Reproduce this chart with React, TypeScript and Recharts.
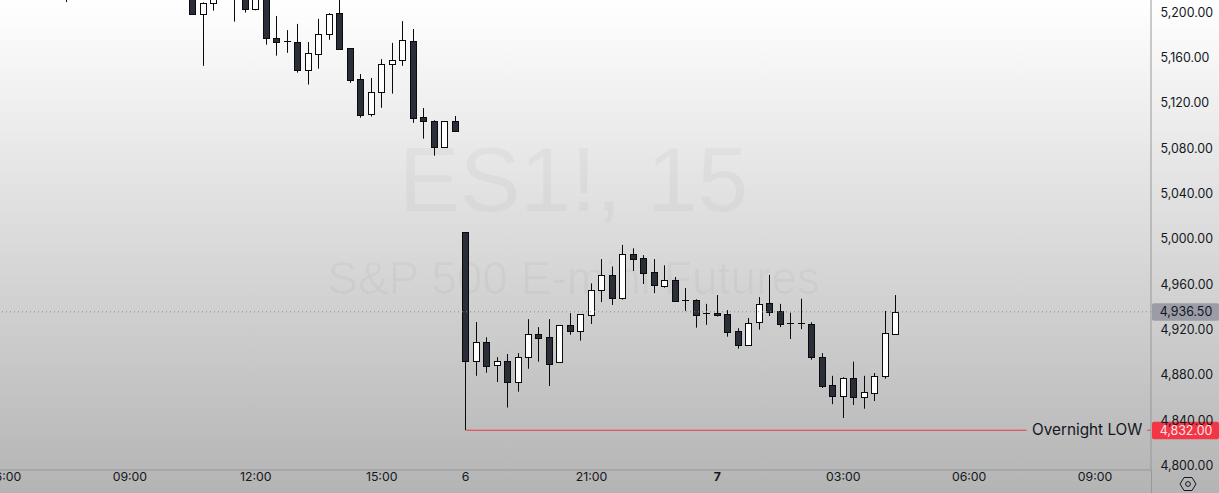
import React from "react";
import { ComposedChart, Bar, XAxis, YAxis, ReferenceLine } from "recharts";

const barIndex = [6, 18, 19, 20, 22, 23, 24, 25, 26, 27, 28, 29, 30, 31, 32, 33, 34, 35, 36, 37, 38, 39, 40, 41, 42, 43,
  44, 45, 46, 47, 48, 49, 50, 51, 52, 53, 54, 55, 56, 57, 58, 59, 60, 61, 62, 63, 64, 65, 66, 67, 68, 69, 70, 71, 72, 73, 74, 75, 76, 77, 78, 79, 80, 81, 82, 83, 84, 85];
const opens = [5219, 5216, 5199.5, 5208.75, 5218, 5214, 5203.5, 5216, 5177.75, 5175.25, 5174.25, 5150, 5164.25, 5181.5, 5200, 5169, 5141.5, 5111.25, 5130.25, 5155, 5159, 5175.25, 5108, 5104.5, 5082.25, 5104.5,
  5006.5, 4893.5, 4909.5, 4889.75, 4892.75, 4874.75, 4896.5, 4916.5, 4914, 4892, 4924.5, 4919.75, 4933.5, 4955.5, 4968.75, 4949, 4987.25, 4983.75, 4971.25, 4959.5, 4964.25, 4946.5, 4946.5, 4935.25, 4935.5, 4934.5, 4919.25, 4907.5, 4927.25, 4944, 4937, 4926.25, 4926.25, 4925.5, 4896.5, 4871.5, 4862.5, 4877.75, 4861, 4864.5, 4880, 4916.5];
const highs = [5222, 5220, 5209.5, 5218, 5224, 5216, 5216, 5218, 5197.5, 5185, 5190.5, 5174.5, 5195, 5200, 5215, 5169, 5146.25, 5142.75, 5159.5, 5173.75, 5193, 5186, 5116.25, 5105.5, 5104.5, 5109.25,
  5006.5, 4927.5, 4914, 4896.5, 4899.25, 4900, 4930, 4923, 4930, 4924.5, 4935.25, 4934.25, 4961.5, 4983, 4976.5, 4995.5, 4992.5, 4986.5, 4983, 4977.5, 4967.25, 4957.5, 4947.5, 4943.5, 4951.25, 4938, 4922, 4931, 4949.5, 4969, 4943.5, 4935.75, 4948, 4927.25, 4900, 4880, 4878.75, 4892.5, 4880, 4882.5, 4937.25, 4951.25];
const lows = [5209.75, 5198.75, 5153.5, 5202.25, 5192.5, 5200.5, 5202.5, 5172.25, 5162.5, 5165, 5147.5, 5137, 5151, 5176.5, 5167.75, 5138.5, 5107.75, 5108.75, 5116.5, 5129, 5153.5, 5103.25, 5089.25, 5074.25, 5081.5, 5096.25,
  4832, 4880, 4882.75, 4874.5, 4852, 4866, 4886.25, 4892.5, 4871, 4892, 4916.25, 4911, 4925.75, 4945, 4942.5, 4947.25, 4972.5, 4961, 4953, 4957.75, 4946.25, 4937.25, 4922.5, 4925, 4932.25, 4914.5, 4904, 4907.5, 4920.75, 4932.75, 4923, 4912.5, 4921.25, 4894.25, 4869.25, 4855, 4842.75, 4854.25, 4851, 4857.75, 4877.5, 4916.5];
const closes = [5216, 5199.5, 5208.75, 5215, 5222, 5203.5, 5214, 5177.75, 5174.75, 5175.25, 5150, 5164.5, 5181.5, 5199, 5168.5, 5141.25, 5110.5, 5130.25, 5155, 5158.5, 5176, 5107.75, 5105, 5082.25, 5104.5, 5096.25,
  4893.5, 4909.5, 4889, 4892.75, 4874.75, 4896.5, 4916.5, 4913.5, 4890.75, 4924.5, 4919.75, 4934.25, 4955.5, 4968.75, 4949, 4987.25, 4983.5, 4971, 4960.5, 4964.25, 4946.25, 4946.5, 4934, 4935.25, 4934, 4919, 4907.5, 4926.25, 4943, 4936.5, 4926, 4926.25, 4926.25, 4896.5, 4871.25, 4862.5, 4877.75, 4861, 4865.5, 4879.5, 4917.5, 4936.5];

const priceTicks = [4800, 4840, 4880, 4920, 4960, 5000, 5040, 5080, 5120, 5160, 5200];
const timeTickIndex = [0, 12, 24, 36, 44, 56, 68, 80, 92, 104];
const timeTickLabels = ["06:00", "09:00", "12:00", "15:00", "6", "21:00", "7", "03:00", "06:00", "09:00"];
const lastPrice = 4936.5;
const overnightLow = 4832;

const rows = barIndex.map((i, k) => ({
  i,
  open: opens[k],
  high: highs[k],
  low: lows[k],
  close: closes[k],
  range: [lows[k], highs[k]],
}));

const FONT = "Inter, 'Noto Sans', sans-serif";
const INK = "#131722";

function Candle(props: any) {
  const { x, y, width, height, payload } = props;
  if (!payload || !isFinite(y) || !isFinite(height) || height <= 0) return null;
  const perUnit = height / (payload.high - payload.low);
  const at = (p: number) => y + (payload.high - p) * perUnit;
  const cx = Math.round(x + width / 2 - 1) + 0.5;
  const top = Math.round(at(Math.max(payload.open, payload.close))) + 0.5;
  const bottom = Math.round(at(Math.min(payload.open, payload.close))) + 0.5;
  const down = payload.close < payload.open;
  return (
    <g>
      <line x1={cx} x2={cx} y1={y} y2={y + height} stroke="#0a0a0a" strokeWidth={1} />
      {payload.open === payload.close ? (
        <line x1={cx - 3.5} x2={cx + 3.5} y1={top} y2={top} stroke="#0a0a0a" strokeWidth={1} />
      ) : (
        <rect x={cx - 3} y={top} width={6} height={Math.max(bottom - top, 1)} fill={down ? "#2a2e39" : "#ffffff"} stroke="#0a0a0a" strokeWidth={1} />
      )}
    </g>
  );
}

function TimeTick(props: any) {
  const { x, y, payload } = props;
  const k = timeTickIndex.indexOf(payload.value);
  const label = timeTickLabels[k];
  return (
    <text x={x - 0.7} y={y} textAnchor="middle" dominantBaseline="central" fontFamily={FONT} fontSize={12.3} fontWeight={label === "7" ? 700 : 400} fill={INK}>
      {label}
    </text>
  );
}

function PriceTick(props: any) {
  const { x, y, payload } = props;
  return (
    <text x={x + 1.5} y={y - 1} textAnchor="start" dominantBaseline="central" fontFamily={FONT} fontSize={12.4} fill={INK}>
      {payload.value.toLocaleString("en-US", { minimumFractionDigits: 2 })}
    </text>
  );
}

function Badge(props: any) {
  const { viewBox, text, bg, fg } = props;
  const right = viewBox.x + viewBox.width;
  return (
    <g>
      <rect x={right + 1} y={viewBox.y - 8.5} width={67} height={17.5} rx={2} fill={bg} />
      <text x={right + 35} y={viewBox.y} textAnchor="middle" dominantBaseline="central" fontFamily={FONT} fontSize={12.4} fill={fg}>
        {text}
      </text>
    </g>
  );
}

function Gear() {
  return (
    <svg width={18} height={18} viewBox="0 0 18 18" style={{ position: "absolute", left: 1179, top: 475 }}>
      <path d="M5 2.5h8L17 9l-4 6.5H5L1 9z" fill="none" stroke={INK} strokeWidth={1} />
      <circle cx={9} cy={9} r={2.4} fill="none" stroke={INK} strokeWidth={1} />
    </svg>
  );
}

const watermark: React.CSSProperties = {
  position: "absolute",
  left: 0,
  width: 1151,
  textAlign: "center",
  fontFamily: "'Liberation Sans', Arial, sans-serif",
  color: "rgba(0,0,0,0.03)",
  whiteSpace: "nowrap",
};

export default function App() {
  return (
    <div style={{ position: "absolute", left: 0, top: 0, width: 1219, height: 493, overflow: "hidden", background: "linear-gradient(#ffffff, #b4b4b4)" }}>
      <div style={{ ...watermark, left: -2, top: 125, fontSize: 91, lineHeight: "110px" }}>ES1!, 15</div>
      <div style={{ ...watermark, left: -2, top: 252, fontSize: 46, lineHeight: "52px" }}>S&amp;P 500 E-mini Futures</div>
      <ComposedChart width={1219} height={493} data={rows} margin={{ top: 0, right: 0, bottom: 0, left: 0 }} style={{ position: "absolute", left: 0, top: 0 }}>
        <XAxis
          dataKey="i"
          type="number"
          domain={[-0.45, 109.27]}
          allowDataOverflow
          ticks={timeTickIndex}
          interval={0}
          height={23}
          tick={<TimeTick />}
          tickLine={false}
          tickMargin={0}
          axisLine={{ stroke: "#989898" }}
        />
        <YAxis
          orientation="right"
          type="number"
          domain={[4796.9, 5211.6]}
          allowDataOverflow
          ticks={priceTicks}
          interval={0}
          width={68}
          tick={<PriceTick />}
          tickLine={false}
          axisLine={{ stroke: "#989898" }}
        />
        <ReferenceLine y={lastPrice} stroke="#8a8a8a" strokeDasharray="1 3" strokeWidth={1} label={<Badge text="4,936.50" bg="#9b9ca6" fg={INK} />} />
        <ReferenceLine
          segment={[{ x: 44, y: overnightLow }, { x: 97.4, y: overnightLow }]}
          stroke="#f23645"
          strokeWidth={1}
        />
        <ReferenceLine segment={[{ x: 108.9, y: overnightLow }, { x: 109.27, y: overnightLow }]} stroke="#f23645" strokeWidth={1} />
        <ReferenceLine y={overnightLow} stroke="none" label={<Badge text="4,832.00" bg="#f23645" fg="#ffe4e7" />} />
        <Bar dataKey="range" barSize={10} isAnimationActive={false} shape={<Candle />} />
      </ComposedChart>
      <div style={{ position: "absolute", left: 1032, top: 420, fontFamily: FONT, fontSize: 15.3, lineHeight: "20px", color: INK, whiteSpace: "nowrap" }}>Overnight LOW</div>
      <div style={{ position: "absolute", left: 1151, top: 470, width: 1, height: 23, background: "#989898" }} />
      <Gear />
    </div>
  );
}
